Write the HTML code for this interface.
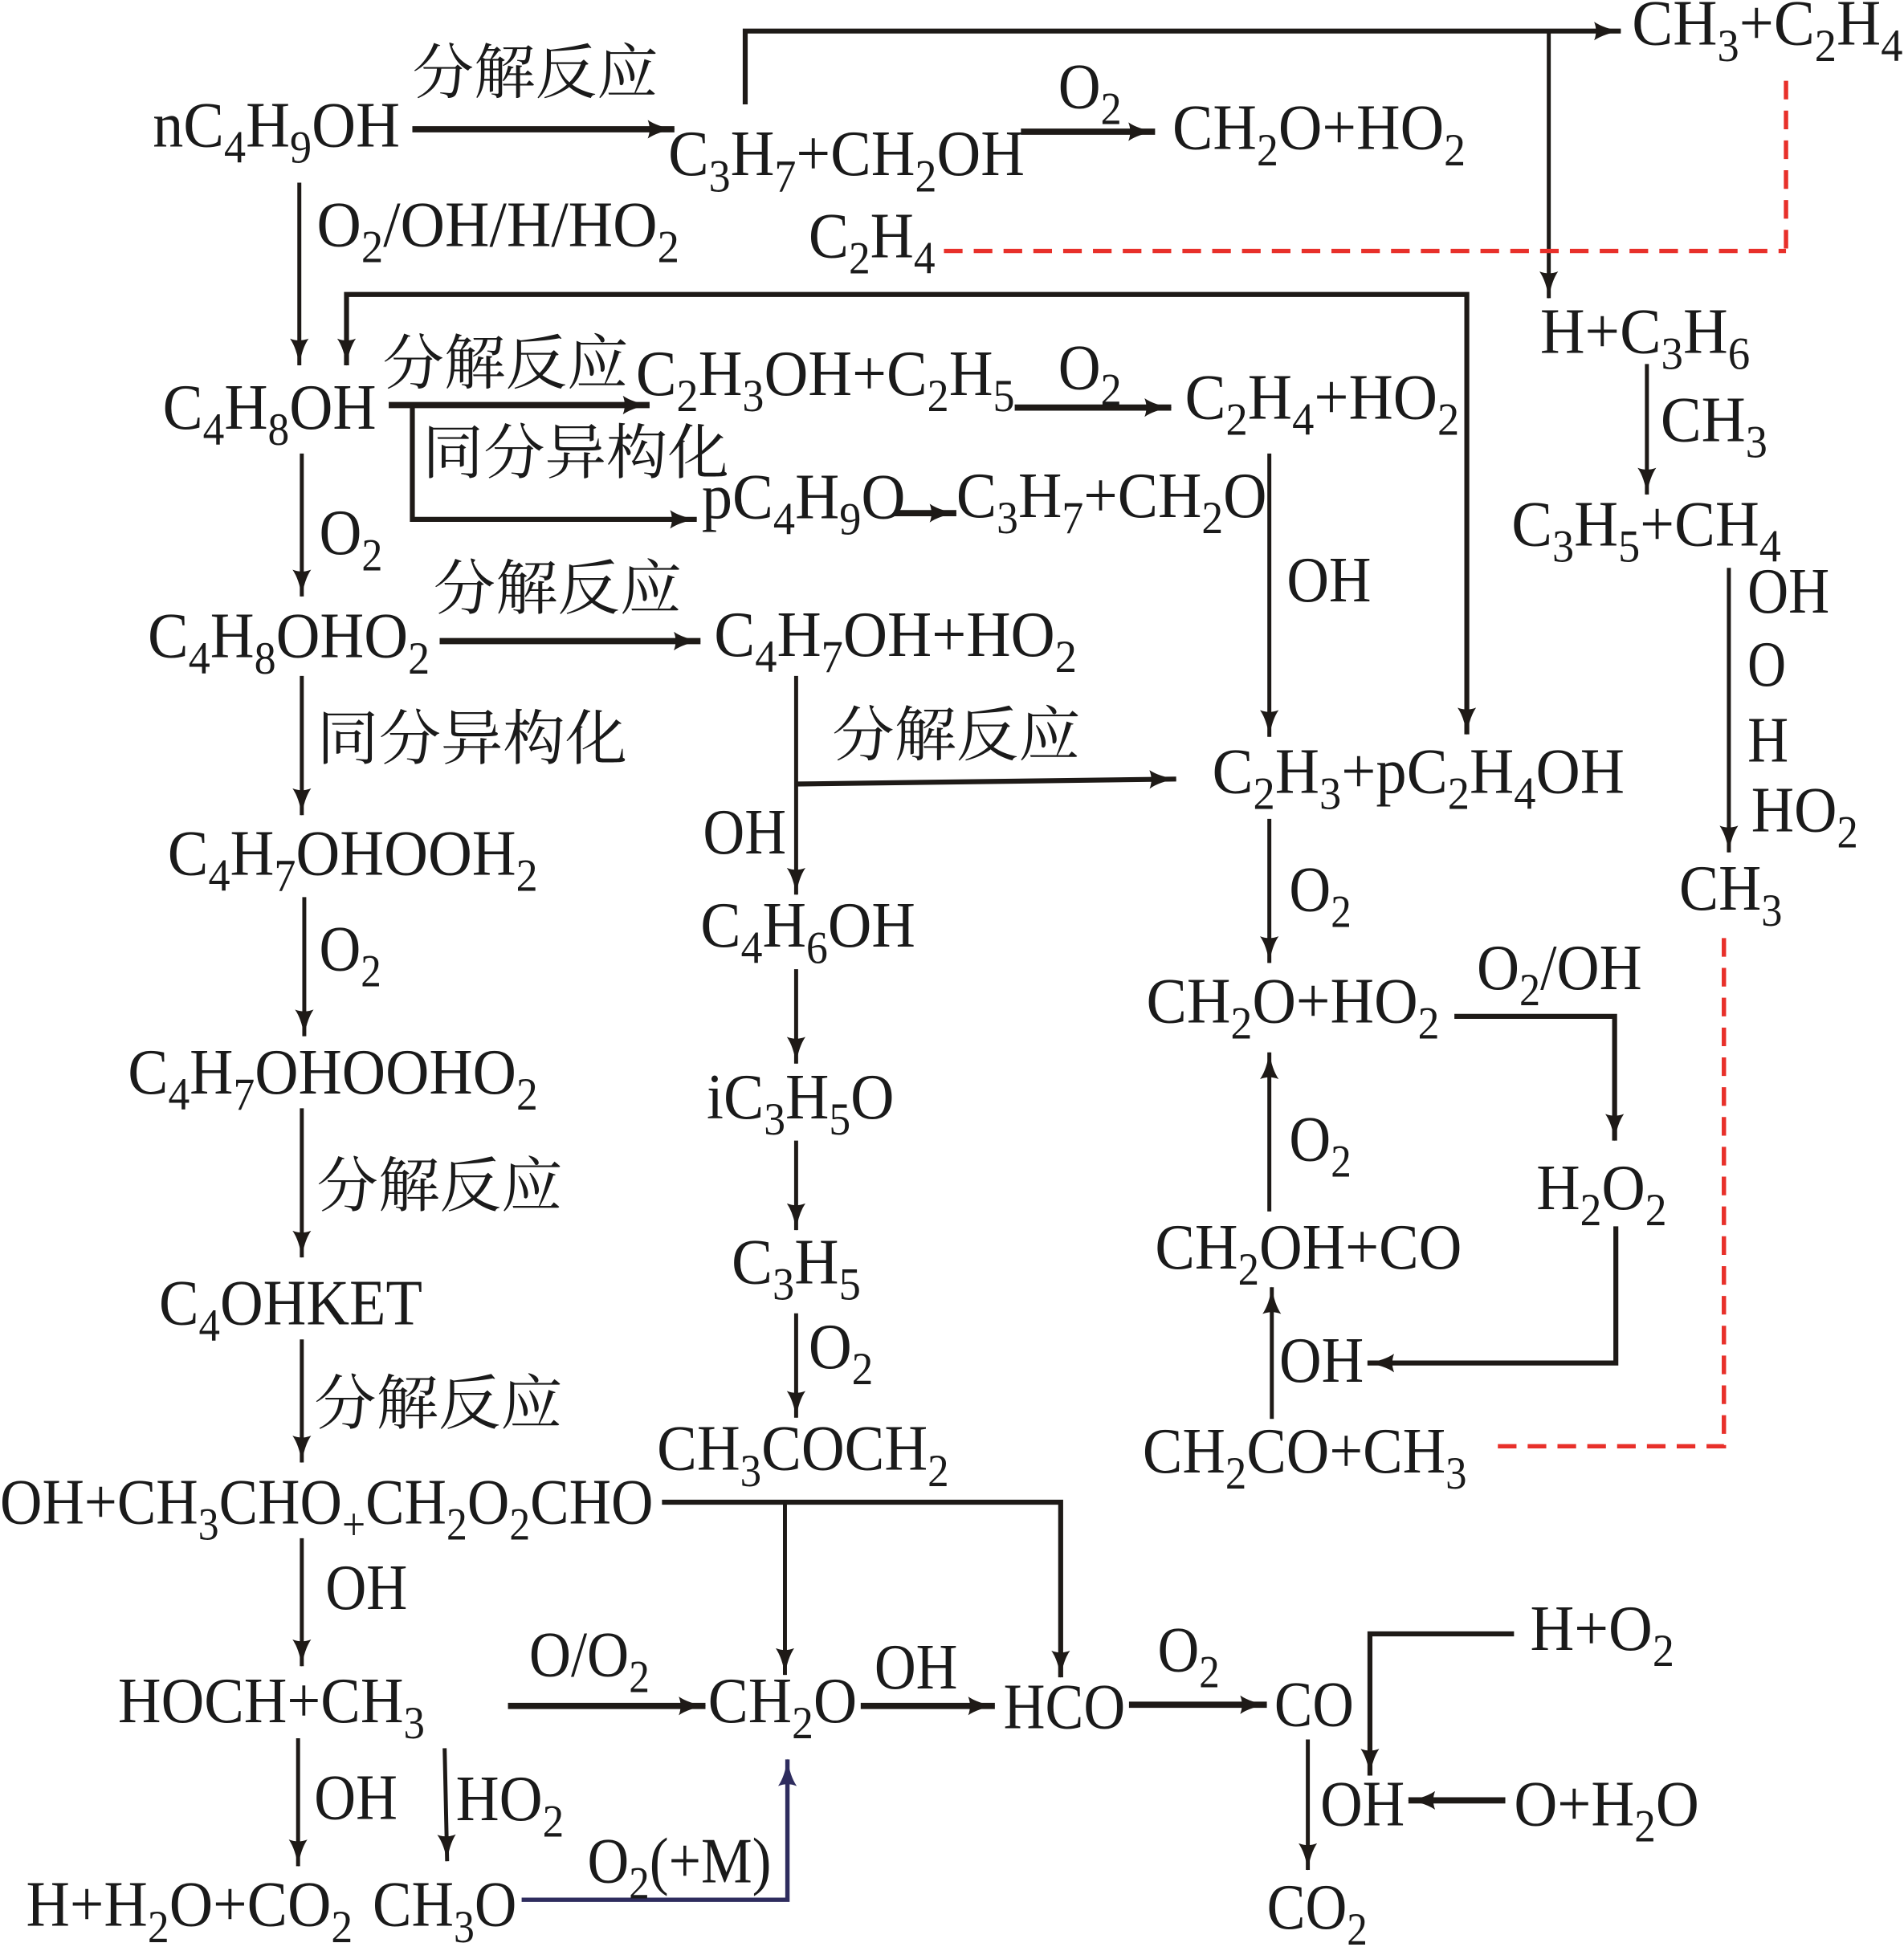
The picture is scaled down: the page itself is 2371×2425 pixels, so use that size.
<!DOCTYPE html>
<html><head><meta charset="utf-8"><style>
html,body{margin:0;padding:0;background:#fff}
svg{display:block}
text{font-family:"Liberation Serif","Noto Serif CJK SC",serif;font-size:52px;fill:#1a1a1a}
.s{font-size:37px}
.c{font-size:48px}
.l{fill:none;stroke:#1e1a17;stroke-width:3.2}
.h{stroke-width:5}
.r{fill:none;stroke:#e8302a;stroke-width:3.5;stroke-dasharray:15 9}
.b{fill:none;stroke:#2e2c5e;stroke-width:3.5}
</style></head><body>
<svg width="2371" height="2425" viewBox="0 0 1533 1567" preserveAspectRatio="none" xmlns="http://www.w3.org/2000/svg">
<defs>
<marker id="a" markerUnits="userSpaceOnUse" markerWidth="22" markerHeight="16" viewBox="0 0 22 16" refX="21.5" refY="8" orient="auto-start-reverse"><path d="M0,0.5 Q8,6 22,8 Q8,10 0,15.5 Q3,8 0,0.5 Z" fill="#1e1a17"/></marker>
<marker id="ab" markerUnits="userSpaceOnUse" markerWidth="22" markerHeight="16" viewBox="0 0 22 16" refX="21.5" refY="8" orient="auto"><path d="M0,0.5 Q8,6 22,8 Q8,10 0,15.5 Q3,8 0,0.5 Z" fill="#2e2c5e"/></marker>
</defs>
<rect width="1533" height="1567" fill="#fff"/>

<!-- lines -->
<line class="l h" x1="332" y1="104" x2="543" y2="104" marker-end="url(#a)"/>
<line class="l h" x1="822" y1="106" x2="930" y2="106" marker-end="url(#a)"/>
<polyline class="l" style="stroke-width:4" points="600,84 600,25 1305,25" marker-end="url(#a)"/>
<line class="l" x1="1247" y1="25" x2="1247" y2="240" marker-end="url(#a)"/>
<line class="r" x1="760" y1="202" x2="1438" y2="202"/>
<line class="r" x1="1438" y1="65" x2="1438" y2="206"/>
<polyline class="l" style="stroke-width:4" points="279,294 279,237 1181,237 1181,591" marker-start="url(#a)" marker-end="url(#a)"/>
<line class="l" x1="241" y1="147" x2="241" y2="294" marker-end="url(#a)"/>
<line class="l h" x1="313" y1="326" x2="523" y2="326" marker-end="url(#a)"/>
<polyline class="l" style="stroke-width:4" points="332,326 332,418 561,418" marker-end="url(#a)"/>
<line class="l h" x1="720" y1="413" x2="770" y2="413" marker-end="url(#a)"/>
<line class="l h" x1="817" y1="328" x2="943" y2="328" marker-end="url(#a)"/>
<line class="l" x1="1022" y1="365" x2="1022" y2="593" marker-end="url(#a)"/>
<line class="l" x1="1326" y1="293" x2="1326" y2="398" marker-end="url(#a)"/>
<line class="l" x1="1392" y1="457" x2="1392" y2="686" marker-end="url(#a)"/>
<polyline class="r" points="1388,755 1388,1164 1199,1164"/>
<line class="l" x1="243" y1="365" x2="243" y2="480" marker-end="url(#a)"/>
<line class="l h" x1="354" y1="516" x2="564" y2="516" marker-end="url(#a)"/>
<line class="l" x1="243" y1="544" x2="243" y2="656" marker-end="url(#a)"/>
<line class="l" x1="641" y1="544" x2="641" y2="720" marker-end="url(#a)"/>
<line class="l" style="stroke-width:4" x1="641" y1="631" x2="947" y2="627" marker-end="url(#a)"/>
<line class="l" x1="1022" y1="659" x2="1022" y2="775" marker-end="url(#a)"/>
<line class="l" x1="245" y1="722" x2="245" y2="834" marker-end="url(#a)"/>
<line class="l" x1="641" y1="780" x2="641" y2="856" marker-end="url(#a)"/>
<polyline class="l" style="stroke-width:4" points="1171,818 1300,818 1300,918" marker-end="url(#a)"/>
<line class="l" x1="243" y1="892" x2="243" y2="1012" marker-end="url(#a)"/>
<line class="l" x1="641" y1="918" x2="641" y2="990" marker-end="url(#a)"/>
<line class="l" x1="1022" y1="975" x2="1022" y2="847" marker-end="url(#a)"/>
<polyline class="l" style="stroke-width:4" points="1301,987 1301,1097 1101,1097" marker-end="url(#a)"/>
<line class="l" x1="641" y1="1057" x2="641" y2="1141" marker-end="url(#a)"/>
<line class="l" x1="1024" y1="1142" x2="1024" y2="1036" marker-end="url(#a)"/>
<line class="l" x1="243" y1="1078" x2="243" y2="1177" marker-end="url(#a)"/>
<polyline class="l" style="stroke-width:4" points="533,1209 854,1209 854,1350" marker-end="url(#a)"/>
<line class="l" x1="632" y1="1209" x2="632" y2="1348" marker-end="url(#a)"/>
<line class="l" x1="243" y1="1238" x2="243" y2="1341" marker-end="url(#a)"/>
<polyline class="l" style="stroke-width:4" points="1219,1315 1103,1315 1103,1429" marker-end="url(#a)"/>
<line class="l h" x1="409" y1="1373" x2="568" y2="1373" marker-end="url(#a)"/>
<line class="l h" x1="693" y1="1373" x2="801" y2="1373" marker-end="url(#a)"/>
<line class="l h" x1="909" y1="1372" x2="1020" y2="1372" marker-end="url(#a)"/>
<line class="l" x1="1053" y1="1400" x2="1053" y2="1505" marker-end="url(#a)"/>
<line class="l" x1="240" y1="1399" x2="240" y2="1502" marker-end="url(#a)"/>
<line class="l" x1="358" y1="1407" x2="360" y2="1498" marker-end="url(#a)"/>
<line class="l h" x1="1212" y1="1449" x2="1134" y2="1449" marker-end="url(#a)"/>
<polyline class="b" points="420,1529 634,1529 634,1416" marker-end="url(#ab)"/>

<!-- CJK labels -->
<text class="c" x="332" y="75" textLength="198" lengthAdjust="spacingAndGlyphs">分解反应</text>
<text class="c" x="308" y="309" textLength="198" lengthAdjust="spacingAndGlyphs">分解反应</text>
<text class="c" x="340" y="381" textLength="247" lengthAdjust="spacingAndGlyphs">同分异构化</text>
<text class="c" x="349" y="490" textLength="200" lengthAdjust="spacingAndGlyphs">分解反应</text>
<text class="c" x="255" y="611" textLength="250" lengthAdjust="spacingAndGlyphs">同分异构化</text>
<text class="c" x="670" y="608" textLength="200" lengthAdjust="spacingAndGlyphs">分解反应</text>
<text class="c" x="255" y="971" textLength="198" lengthAdjust="spacingAndGlyphs">分解反应</text>
<text class="c" x="253" y="1146" textLength="200" lengthAdjust="spacingAndGlyphs">分解反应</text>

<!-- formulas -->
<text x="123" y="118" textLength="199" lengthAdjust="spacingAndGlyphs">nC<tspan class="s" dy="13">4</tspan><tspan dy="-13">H</tspan><tspan class="s" dy="13">9</tspan><tspan dy="-13">OH</tspan></text>
<text x="538" y="141" textLength="287" lengthAdjust="spacingAndGlyphs">C<tspan class="s" dy="13">3</tspan><tspan dy="-13">H</tspan><tspan class="s" dy="13">7</tspan><tspan dy="-13">+CH</tspan><tspan class="s" dy="13">2</tspan><tspan dy="-13">OH</tspan></text>
<text x="1314" y="36" textLength="218" lengthAdjust="spacingAndGlyphs">CH<tspan class="s" dy="13">3</tspan><tspan dy="-13">+C</tspan><tspan class="s" dy="13">2</tspan><tspan dy="-13">H</tspan><tspan class="s" dy="13">4</tspan></text>
<text x="852" y="87" textLength="51" lengthAdjust="spacingAndGlyphs">O<tspan class="s" dy="13">2</tspan></text>
<text x="944" y="120" textLength="236" lengthAdjust="spacingAndGlyphs">CH<tspan class="s" dy="13">2</tspan><tspan dy="-13">O+HO</tspan><tspan class="s" dy="13">2</tspan></text>
<text x="651" y="207" textLength="102" lengthAdjust="spacingAndGlyphs">C<tspan class="s" dy="13">2</tspan><tspan dy="-13">H</tspan><tspan class="s" dy="13">4</tspan></text>
<text x="255" y="198" textLength="292" lengthAdjust="spacingAndGlyphs">O<tspan class="s" dy="13">2</tspan><tspan dy="-13">/OH/H/HO</tspan><tspan class="s" dy="13">2</tspan></text>
<text x="131" y="345" textLength="172" lengthAdjust="spacingAndGlyphs">C<tspan class="s" dy="13">4</tspan><tspan dy="-13">H</tspan><tspan class="s" dy="13">8</tspan><tspan dy="-13">OH</tspan></text>
<text x="512" y="318" textLength="305" lengthAdjust="spacingAndGlyphs">C<tspan class="s" dy="13">2</tspan><tspan dy="-13">H</tspan><tspan class="s" dy="13">3</tspan><tspan dy="-13">OH+C</tspan><tspan class="s" dy="13">2</tspan><tspan dy="-13">H</tspan><tspan class="s" dy="13">5</tspan></text>
<text x="852" y="313" textLength="51" lengthAdjust="spacingAndGlyphs">O<tspan class="s" dy="13">2</tspan></text>
<text x="954" y="337" textLength="221" lengthAdjust="spacingAndGlyphs">C<tspan class="s" dy="13">2</tspan><tspan dy="-13">H</tspan><tspan class="s" dy="13">4</tspan><tspan dy="-13">+HO</tspan><tspan class="s" dy="13">2</tspan></text>
<text x="565" y="417" textLength="164" lengthAdjust="spacingAndGlyphs">pC<tspan class="s" dy="13">4</tspan><tspan dy="-13">H</tspan><tspan class="s" dy="13">9</tspan><tspan dy="-13">O</tspan></text>
<text x="770" y="416" textLength="250" lengthAdjust="spacingAndGlyphs">C<tspan class="s" dy="13">3</tspan><tspan dy="-13">H</tspan><tspan class="s" dy="13">7</tspan><tspan dy="-13">+CH</tspan><tspan class="s" dy="13">2</tspan><tspan dy="-13">O</tspan></text>
<text x="1036" y="484" textLength="68" lengthAdjust="spacingAndGlyphs">OH</text>
<text x="1240" y="284" textLength="169" lengthAdjust="spacingAndGlyphs">H+C<tspan class="s" dy="13">3</tspan><tspan dy="-13">H</tspan><tspan class="s" dy="13">6</tspan></text>
<text x="1337" y="355" textLength="86" lengthAdjust="spacingAndGlyphs">CH<tspan class="s" dy="13">3</tspan></text>
<text x="1217" y="439" textLength="217" lengthAdjust="spacingAndGlyphs">C<tspan class="s" dy="13">3</tspan><tspan dy="-13">H</tspan><tspan class="s" dy="13">5</tspan><tspan dy="-13">+CH</tspan><tspan class="s" dy="13">4</tspan></text>
<text x="1407" y="493" textLength="66" lengthAdjust="spacingAndGlyphs">OH</text>
<text x="1407" y="552" textLength="31" lengthAdjust="spacingAndGlyphs">O</text>
<text x="1407" y="613" textLength="33" lengthAdjust="spacingAndGlyphs">H</text>
<text x="1410" y="669" textLength="86" lengthAdjust="spacingAndGlyphs">HO<tspan class="s" dy="13">2</tspan></text>
<text x="1352" y="732" textLength="83" lengthAdjust="spacingAndGlyphs">CH<tspan class="s" dy="13">3</tspan></text>
<text x="257" y="446" textLength="51" lengthAdjust="spacingAndGlyphs">O<tspan class="s" dy="13">2</tspan></text>
<text x="119" y="529" textLength="227" lengthAdjust="spacingAndGlyphs">C<tspan class="s" dy="13">4</tspan><tspan dy="-13">H</tspan><tspan class="s" dy="13">8</tspan><tspan dy="-13">OHO</tspan><tspan class="s" dy="13">2</tspan></text>
<text x="575" y="528" textLength="292" lengthAdjust="spacingAndGlyphs">C<tspan class="s" dy="13">4</tspan><tspan dy="-13">H</tspan><tspan class="s" dy="13">7</tspan><tspan dy="-13">OH+HO</tspan><tspan class="s" dy="13">2</tspan></text>
<text x="976" y="638" textLength="332" lengthAdjust="spacingAndGlyphs">C<tspan class="s" dy="13">2</tspan><tspan dy="-13">H</tspan><tspan class="s" dy="13">3</tspan><tspan dy="-13">+pC</tspan><tspan class="s" dy="13">2</tspan><tspan dy="-13">H</tspan><tspan class="s" dy="13">4</tspan><tspan dy="-13">OH</tspan></text>
<text x="566" y="687" textLength="67" lengthAdjust="spacingAndGlyphs">OH</text>
<text x="135" y="704" textLength="298" lengthAdjust="spacingAndGlyphs">C<tspan class="s" dy="13">4</tspan><tspan dy="-13">H</tspan><tspan class="s" dy="13">7</tspan><tspan dy="-13">OHOOH</tspan><tspan class="s" dy="13">2</tspan></text>
<text x="564" y="762" textLength="173" lengthAdjust="spacingAndGlyphs">C<tspan class="s" dy="13">4</tspan><tspan dy="-13">H</tspan><tspan class="s" dy="13">6</tspan><tspan dy="-13">OH</tspan></text>
<text x="1038" y="733" textLength="50" lengthAdjust="spacingAndGlyphs">O<tspan class="s" dy="13">2</tspan></text>
<text x="257" y="781" textLength="50" lengthAdjust="spacingAndGlyphs">O<tspan class="s" dy="13">2</tspan></text>
<text x="923" y="823" textLength="236" lengthAdjust="spacingAndGlyphs">CH<tspan class="s" dy="13">2</tspan><tspan dy="-13">O+HO</tspan><tspan class="s" dy="13">2</tspan></text>
<text x="1189" y="796" textLength="133" lengthAdjust="spacingAndGlyphs">O<tspan class="s" dy="13">2</tspan><tspan dy="-13">/OH</tspan></text>
<text x="103" y="880" textLength="330" lengthAdjust="spacingAndGlyphs">C<tspan class="s" dy="13">4</tspan><tspan dy="-13">H</tspan><tspan class="s" dy="13">7</tspan><tspan dy="-13">OHOOHO</tspan><tspan class="s" dy="13">2</tspan></text>
<text x="569" y="900" textLength="151" lengthAdjust="spacingAndGlyphs">iC<tspan class="s" dy="13">3</tspan><tspan dy="-13">H</tspan><tspan class="s" dy="13">5</tspan><tspan dy="-13">O</tspan></text>
<text x="1038" y="934" textLength="50" lengthAdjust="spacingAndGlyphs">O<tspan class="s" dy="13">2</tspan></text>
<text x="1237" y="973" textLength="105" lengthAdjust="spacingAndGlyphs">H<tspan class="s" dy="13">2</tspan><tspan dy="-13">O</tspan><tspan class="s" dy="13">2</tspan></text>
<text x="930" y="1021" textLength="247" lengthAdjust="spacingAndGlyphs">CH<tspan class="s" dy="13">2</tspan><tspan dy="-13">OH+CO</tspan></text>
<text x="128" y="1066" textLength="212" lengthAdjust="spacingAndGlyphs">C<tspan class="s" dy="13">4</tspan><tspan dy="-13">OHKET</tspan></text>
<text x="589" y="1033" textLength="104" lengthAdjust="spacingAndGlyphs">C<tspan class="s" dy="13">3</tspan><tspan dy="-13">H</tspan><tspan class="s" dy="13">5</tspan></text>
<text x="651" y="1101" textLength="52" lengthAdjust="spacingAndGlyphs">O<tspan class="s" dy="13">2</tspan></text>
<text x="1030" y="1112" textLength="68" lengthAdjust="spacingAndGlyphs">OH</text>
<text x="529" y="1183" textLength="235" lengthAdjust="spacingAndGlyphs">CH<tspan class="s" dy="13">3</tspan><tspan dy="-13">COCH</tspan><tspan class="s" dy="13">2</tspan></text>
<text x="920" y="1185" textLength="261" lengthAdjust="spacingAndGlyphs">CH<tspan class="s" dy="13">2</tspan><tspan dy="-13">CO+CH</tspan><tspan class="s" dy="13">3</tspan></text>
<text x="0" y="1226" textLength="526" lengthAdjust="spacingAndGlyphs">OH+CH<tspan class="s" dy="13">3</tspan><tspan dy="-13">CHO</tspan><tspan class="s" dy="13">+</tspan><tspan dy="-13">CH</tspan><tspan class="s" dy="13">2</tspan><tspan dy="-13">O</tspan><tspan class="s" dy="13">2</tspan><tspan dy="-13">CHO</tspan></text>
<text x="262" y="1295" textLength="66" lengthAdjust="spacingAndGlyphs">OH</text>
<text x="1232" y="1328" textLength="116" lengthAdjust="spacingAndGlyphs">H+O<tspan class="s" dy="13">2</tspan></text>
<text x="426" y="1349" textLength="97" lengthAdjust="spacingAndGlyphs">O/O<tspan class="s" dy="13">2</tspan></text>
<text x="704" y="1359" textLength="67" lengthAdjust="spacingAndGlyphs">OH</text>
<text x="932" y="1345" textLength="50" lengthAdjust="spacingAndGlyphs">O<tspan class="s" dy="13">2</tspan></text>
<text x="95" y="1386" textLength="247" lengthAdjust="spacingAndGlyphs">HOCH+CH<tspan class="s" dy="13">3</tspan></text>
<text x="570" y="1386" textLength="120" lengthAdjust="spacingAndGlyphs">CH<tspan class="s" dy="13">2</tspan><tspan dy="-13">O</tspan></text>
<text x="808" y="1391" textLength="98" lengthAdjust="spacingAndGlyphs">HCO</text>
<text x="1026" y="1389" textLength="64" lengthAdjust="spacingAndGlyphs">CO</text>
<text x="253" y="1464" textLength="67" lengthAdjust="spacingAndGlyphs">OH</text>
<text x="367" y="1465" textLength="87" lengthAdjust="spacingAndGlyphs">HO<tspan class="s" dy="13">2</tspan></text>
<text x="1063" y="1469" textLength="68" lengthAdjust="spacingAndGlyphs">OH</text>
<text x="1219" y="1469" textLength="149" lengthAdjust="spacingAndGlyphs">O+H<tspan class="s" dy="13">2</tspan><tspan dy="-13">O</tspan></text>
<text x="473" y="1515" textLength="148" lengthAdjust="spacingAndGlyphs">O<tspan class="s" dy="13">2</tspan><tspan dy="-13">(+M)</tspan></text>
<text x="21" y="1550" textLength="263" lengthAdjust="spacingAndGlyphs">H+H<tspan class="s" dy="13">2</tspan><tspan dy="-13">O+CO</tspan><tspan class="s" dy="13">2</tspan></text>
<text x="300" y="1550" textLength="116" lengthAdjust="spacingAndGlyphs">CH<tspan class="s" dy="13">3</tspan><tspan dy="-13">O</tspan></text>
<text x="1020" y="1552" textLength="81" lengthAdjust="spacingAndGlyphs">CO<tspan class="s" dy="13">2</tspan></text>
</svg>
</body></html>
